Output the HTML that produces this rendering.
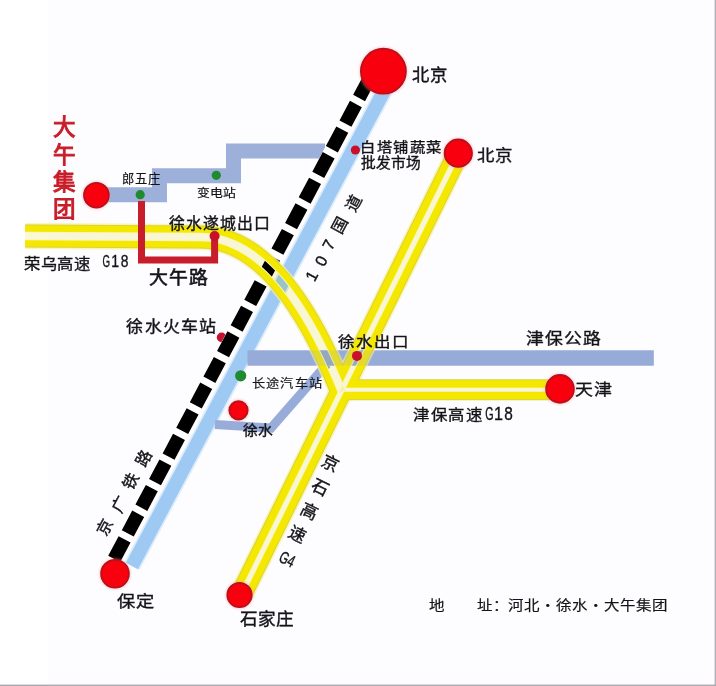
<!DOCTYPE html>
<html lang="zh-CN">
<head>
<meta charset="utf-8">
<style>
html,body{margin:0;padding:0;background:#fdfcfe;}
body{width:716px;height:686px;overflow:hidden;position:relative;font-family:"Liberation Sans",sans-serif;}
svg{position:absolute;left:0;top:0;}
text{font-family:"Liberation Sans",sans-serif;fill:#141418;stroke:#141418;stroke-width:0.4px;}
#lwz,#bdz,#ctqcz,#dz{stroke-width:0.2px;}
#dwl{stroke-width:0.6px;}
.m{font-family:"Liberation Mono",monospace;stroke-width:0;}
.lat{stroke-width:0.35px;}
.red{fill:#c81e2a;stroke:#c81e2a;stroke-width:1.0px;}
</style>
</head>
<body>
<svg width="716" height="686" viewBox="0 0 716 686">
  <defs>
    <filter id="blur1" x="-30%" y="-30%" width="160%" height="160%"><feGaussianBlur stdDeviation="1.2"/></filter>
    <filter id="blur05" x="-10%" y="-10%" width="120%" height="120%"><feGaussianBlur stdDeviation="0.6"/></filter>
    <mask id="hwm" maskUnits="userSpaceOnUse" x="0" y="0" width="716" height="686">
    <path d="M25 236 L200 237 Q280 237 342 392" fill="none" stroke="#fff" stroke-width="26.5"/>
    <path d="M344 389.7 H560" fill="none" stroke="#fff" stroke-width="24.5"/>
    <path d="M458.30 153 L241.10 595" fill="none" stroke="#fff" stroke-width="25"/>
    <path d="M25 236 L200 237 Q280 237 342 392" fill="none" stroke="#000" stroke-width="6.5"/>
    <path d="M344 389.7 H560" fill="none" stroke="#000" stroke-width="4"/>
    <path d="M458.30 153 L241.10 595" fill="none" stroke="#000" stroke-width="3.5"/>
    </mask>
  </defs>
  <rect x="0" y="0" width="48" height="686" fill="#ffffff"/>

  <!-- blue roads -->
  <polyline points="100,194.8 159.5,194.8 159.5,175.75 233.5,175.75 233.5,151 325,151" fill="none" stroke="#9db0d9" stroke-width="15"/>
  <line x1="389.93" y1="80" x2="131.96" y2="566" stroke="#dcecfb" stroke-width="17"/>
  <line x1="389.93" y1="80" x2="131.96" y2="566" stroke="#9ec9f3" stroke-width="13.6"/>
  <rect x="247.5" y="350.3" width="406.3" height="15.4" fill="#98acd9"/>
  <polyline points="215,424.5 271,428 327,364" fill="none" stroke="#98acd9" stroke-width="9"/>

  <circle cx="221.6" cy="337.4" r="4.8" fill="#c8102a"/>
  <!-- railway -->
  <line x1="373.43" y1="71" x2="110.97" y2="565" stroke="#ffffff" stroke-width="14"/>
  <line x1="373.43" y1="71" x2="110.97" y2="565" stroke="#000000" stroke-width="13.5" stroke-dasharray="22.2 6.8" stroke-dashoffset="20.6"/>

  <!-- highways -->
  <g mask="url(#hwm)">
  <path d="M25 236 L200 237 Q280 237 342 392" fill="none" stroke="#f6f29c" stroke-width="26.0" filter="url(#blur1)"/>
  <path d="M344 389.7 H560" fill="none" stroke="#f6f29c" stroke-width="24.0" filter="url(#blur1)"/>
  <path d="M458.30 153 L241.10 595" fill="none" stroke="#f6f29c" stroke-width="24.5" filter="url(#blur1)"/>
  <path d="M25 236 L200 237 Q280 237 342 392" fill="none" stroke="#dcd23c" stroke-width="23.0"/>
  <path d="M344 389.7 H560" fill="none" stroke="#dcd23c" stroke-width="21.0"/>
  <path d="M458.30 153 L241.10 595" fill="none" stroke="#dcd23c" stroke-width="21.5"/>
  <path d="M25 236 L200 237 Q280 237 342 392" fill="none" stroke="#f5e800" stroke-width="21.0"/>
  <path d="M344 389.7 H560" fill="none" stroke="#f5e800" stroke-width="19.0"/>
  <path d="M458.30 153 L241.10 595" fill="none" stroke="#f5e800" stroke-width="19.5"/>
  <path d="M25 236 L200 237 Q280 237 342 392" fill="none" stroke="#f8f5c0" stroke-width="8.5" filter="url(#blur05)"/>
  <path d="M344 389.7 H560" fill="none" stroke="#f8f5c0" stroke-width="6" filter="url(#blur05)"/>
  <path d="M458.30 153 L241.10 595" fill="none" stroke="#f8f5c0" stroke-width="5.5" filter="url(#blur05)"/>
  </g>
  <path d="M25 236 L200 237 Q280 237 342 392" fill="none" stroke="#fbf9d4" stroke-width="6.5" style="mix-blend-mode:multiply"/>
  <path d="M344 389.7 H560" fill="none" stroke="#fbf9d4" stroke-width="4" style="mix-blend-mode:multiply"/>
  <path d="M458.30 153 L241.10 595" fill="none" stroke="#fbf9d4" stroke-width="3.5" style="mix-blend-mode:multiply"/>
  <!-- 津保公路 tint over highway -->
  <rect x="247.5" y="350.3" width="406.3" height="15.4" fill="#98acd9" opacity="0.2"/>

  <!-- red road -->
  <polyline points="141.5,201 141.5,260 214.6,260 214.6,236" fill="none" stroke="#c81d2a" stroke-width="7"/>

  <!-- big red circles -->
  <circle cx="383.4" cy="71.2" r="24.5" fill="#ff9a9a" opacity="0.35" filter="url(#blur1)"/><circle cx="383.4" cy="71.2" r="22.5" fill="#f8000e" stroke="#b8101c" stroke-width="1.8"/><circle cx="458.3" cy="153.2" r="15.7" fill="#ff9a9a" opacity="0.35" filter="url(#blur1)"/><circle cx="458.3" cy="153.2" r="13.7" fill="#f8000e" stroke="#b8101c" stroke-width="1.8"/><circle cx="96.4" cy="195.2" r="14.399999999999999" fill="#ff9a9a" opacity="0.35" filter="url(#blur1)"/><circle cx="96.4" cy="195.2" r="12.399999999999999" fill="#f8000e" stroke="#b8101c" stroke-width="1.8"/><circle cx="560" cy="388.9" r="15.899999999999999" fill="#ff9a9a" opacity="0.35" filter="url(#blur1)"/><circle cx="560" cy="388.9" r="13.899999999999999" fill="#f8000e" stroke="#b8101c" stroke-width="1.8"/><circle cx="115" cy="573.8" r="15.899999999999999" fill="#ff9a9a" opacity="0.35" filter="url(#blur1)"/><circle cx="115" cy="573.8" r="13.899999999999999" fill="#f8000e" stroke="#b8101c" stroke-width="1.8"/><circle cx="239.5" cy="595" r="14.2" fill="#ff9a9a" opacity="0.35" filter="url(#blur1)"/><circle cx="239.5" cy="595" r="12.2" fill="#f8000e" stroke="#b8101c" stroke-width="1.8"/><circle cx="238.5" cy="410.3" r="11.2" fill="#ff9a9a" opacity="0.35" filter="url(#blur1)"/><circle cx="238.5" cy="410.3" r="9.2" fill="#f8000e" stroke="#b8101c" stroke-width="1.8"/>
  <!-- small dots -->
  <g fill="#c8102a">
    <circle cx="355.4" cy="150" r="4.6"/>
    <circle cx="214.6" cy="236" r="5"/>
    <circle cx="357" cy="355.9" r="5"/>
  </g>
  <g fill="#1f8a2e">
    <circle cx="140.2" cy="194.7" r="4.6"/>
    <circle cx="216.3" cy="175.3" r="4.6"/>
    <circle cx="240.7" cy="375.8" r="5.6"/>
  </g>

  <text id="bj1" font-size="18" letter-spacing="0.9" transform="translate(412.42,81.15) scale(0.9664,0.9563)">北京</text>
  <text id="bj2" font-size="18" letter-spacing="0.9" transform="translate(476.60,160.62) scale(0.9687,0.8740)">北京</text>
  <text id="btp" font-size="15.5" letter-spacing="0.78" transform="translate(360.20,152.29) scale(0.9874,0.8943)">白塔铺蔬菜</text>
  <text id="pfsc" font-size="15.5" letter-spacing="0.78" transform="translate(361.03,167.79) scale(0.9496,0.9203)">批发市场</text>
  <text id="lwz" font-size="12.5" letter-spacing="0.62" transform="translate(121.69,183.35) scale(0.9857,1.0467)">郎五庄</text>
  <text id="bdz" font-size="12.5" letter-spacing="0.62" transform="translate(196.97,196.74) scale(1.0313,0.9435)">变电站</text>
  <text id="xsscck" font-size="16.5" letter-spacing="0.83" transform="translate(168.94,228.71) scale(0.9634,0.9344)">徐水遂城出口</text>
  <text id="rwgs" font-size="17" letter-spacing="0.85" transform="translate(23.97,268.53) scale(0.9600,0.8524)">荣乌高速</text>
  <text id="dwl" font-size="19" letter-spacing="0.95" transform="translate(148.77,284.05) scale(0.9938,0.9845)">大午路</text>
  <text id="xshcz" font-size="17.5" letter-spacing="0.88" transform="translate(126.45,332.32) scale(0.9684,0.9391)">徐水火车站</text>
  <text id="xsck" font-size="17" letter-spacing="0.85" transform="translate(338.40,346.50) scale(0.9710,0.8500)">徐水出口</text>
  <text id="jbgl" font-size="17" letter-spacing="0.85" transform="translate(526.46,343.79) scale(1.0515,0.9306)">津保公路</text>
  <text id="ctqcz" font-size="13.5" letter-spacing="0.68" transform="translate(251.94,387.52) scale(0.9772,0.8907)">长途汽车站</text>
  <text id="xs" font-size="15" letter-spacing="0.75" transform="translate(242.99,434.92) scale(0.9849,0.9312)">徐水</text>
  <text id="tj" font-size="18" letter-spacing="0.9" transform="translate(575.28,395.14) scale(1.0009,0.8738)">天津</text>
  <text id="jbgs" font-size="17" letter-spacing="0.85" transform="translate(413.14,419.95) scale(0.9652,0.8763)">津保高速</text>
  <text id="bd" font-size="18" letter-spacing="0.9" transform="translate(116.77,607.31) scale(1.0170,0.9120)">保定</text>
  <text id="sjz" font-size="18" letter-spacing="0.9" transform="translate(240.23,625.27) scale(0.9779,0.9673)">石家庄</text>
  <text id="dz" font-size="16" transform="translate(428.68,610.40) scale(0.9703,0.8500)">地　　址：河北・徐水・大午集团</text>
  <g id="jgtl" font-size="16" text-anchor="middle" dominant-baseline="central">
    <text transform="translate(104.6,527.6) rotate(-62)">京</text>
    <text transform="translate(119.8,504.8) rotate(-62)">广</text>
    <text transform="translate(131.2,481.2) rotate(-62)">铁</text>
    <text transform="translate(143.5,458.4) rotate(-62)">路</text>
  </g>
  <g id="gd107" font-size="16" text-anchor="middle" dominant-baseline="central">
    <text transform="translate(311.8,276.1) rotate(-62)">1</text>
    <text transform="translate(321.3,261) rotate(-62)">0</text>
    <text transform="translate(328.8,244.8) rotate(-62)">7</text>
    <text transform="translate(340.2,225) rotate(-62)">国</text>
    <text transform="translate(353.5,203.2) rotate(-62)">道</text>
  </g>
  <g id="jsgs" font-size="17" text-anchor="middle" dominant-baseline="central">
    <text transform="translate(330.4,463.5) rotate(26.2)">京</text>
    <text transform="translate(320.2,488) rotate(26.2)">石</text>
    <text transform="translate(309,511.4) rotate(26.2)">高</text>
    <text transform="translate(296.7,534.9) rotate(26.2)">速</text>
    <text transform="translate(287.3,559.2) rotate(26.2) scale(0.68,1)">G4</text>
  </g>
  <g id="dwjt" font-size="22.5" text-anchor="middle" dominant-baseline="central">
    <text class="red" transform="translate(64.3,127.8) rotate(0)">大</text>
    <text class="red" transform="translate(64.3,155.2) rotate(0)">午</text>
    <text class="red" transform="translate(64.3,182.2) rotate(0)">集</text>
    <text class="red" transform="translate(64.3,209) rotate(0)">团</text>
  </g>
  <text class="lat" font-size="15.7" text-anchor="middle" transform="translate(106.4,267.1) scale(0.62,1)">G</text>
  <text class="lat" font-size="15.7" text-anchor="middle" transform="translate(115.3,267.1) scale(0.9,1)">1</text>
  <text class="lat" font-size="15.7" text-anchor="middle" transform="translate(124.6,267.1) scale(0.88,1)">8</text>
  <text class="lat" font-size="17.9" text-anchor="middle" transform="translate(489.4,420.3) scale(0.6,1)">G</text>
  <text class="lat" font-size="17.9" text-anchor="middle" transform="translate(498.5,420.3) scale(0.9,1)">1</text>
  <text class="lat" font-size="17.9" text-anchor="middle" transform="translate(508.6,420.3) scale(0.86,1)">8</text>
  <!-- border -->
  <rect x="714.6" y="0" width="1.4" height="686" fill="#b4b0b8"/>
  <rect x="0" y="684.6" width="716" height="1.4" fill="#aca8b0"/>
</svg>
</body>
</html>
